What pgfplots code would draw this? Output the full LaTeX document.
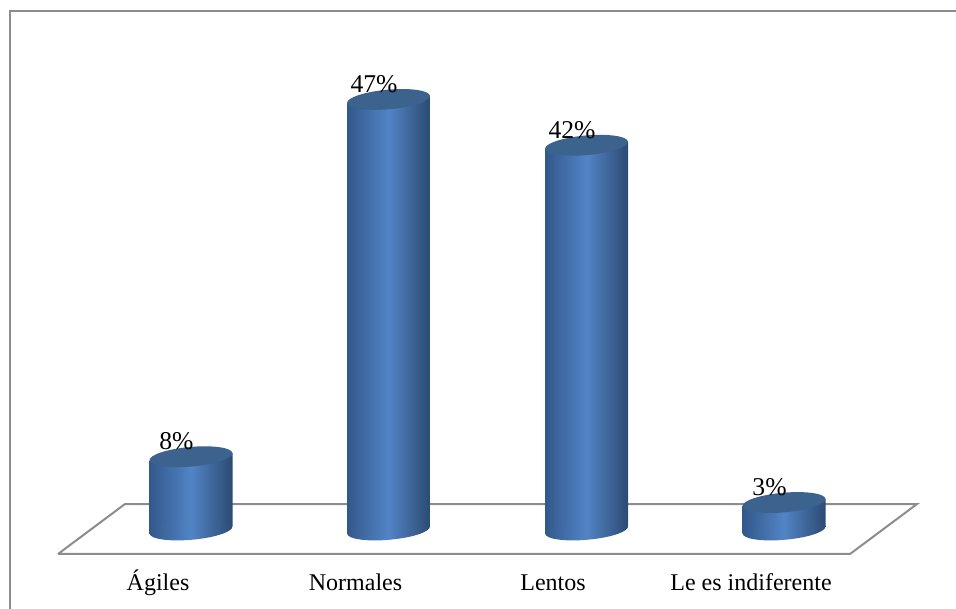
\documentclass[border=0pt]{standalone}
\usepackage{fontspec}
\setmainfont{Liberation Serif}
\usepackage{pgfplots}
\pgfplotsset{compat=1.18}
\definecolor{cylL}{RGB}{50,88,138}
\definecolor{cylM}{RGB}{82,132,198}
\definecolor{cylR}{RGB}{44,74,114}
\definecolor{cylT}{RGB}{60,98,142}
\definecolor{fl}{RGB}{140,140,140}
\pgfdeclareplotmark{cyltop}{%
  \pgftransformrotate{5}%
  \path[draw=none,fill=cylT] (canvas cs:x=0cm,y=0cm) ellipse [x radius=41.6bp,y radius=9.8bp];}
\pgfdeclareplotmark{cylbot}{%
  \pgftransformrotate{5}%
  \path[draw=none,left color=cylL,right color=cylR,middle color=cylM] (canvas cs:x=0cm,y=0cm) ellipse [x radius=41.6bp,y radius=9.8bp];}
\pgfplotsset{cylbody/.style={draw=none,left color=cylL,right color=cylR,middle color=cylM}}
\begin{document}
\begin{tikzpicture}[x=1bp,y=1bp]
\path[use as bounding box] (0,0) rectangle (956,609);
\begin{axis}[
  at={(0,0)},
  anchor=south west,
  scale only axis,width=956bp,height=609bp,
  xmin=0,xmax=956,ymin=-8.624,ymax=57.860,
  clip=false,
  axis line style={draw=none},
  major tick length=0pt,
  ytick=\empty,
  xtick={158,355.5,553,751},
  xticklabels={Ágiles,Normales,Lentos,Le es indiferente},
  xticklabel style={font=\fontsize{24bp}{28bp}\selectfont,anchor=base,yshift=18bp},
]
% frame
\addplot[draw=fl,line width=1.6bp] coordinates {(10,-8.624) (10,56.66) (956,56.66)};
% floor
\addplot[draw=fl,line width=2bp] coordinates {(58,-2.62) (850,-2.62) (917,2.838) (125,2.838) (58,-2.62)};
% bottom caps
\addplot[only marks,mark=cylbot] coordinates {(191,0) (388.5,0) (586.5,0) (784,0)};
% bodies: the sides of each cylinder, tilted to meet the caps
\addplot[cylbody] coordinates {(149.5,-0.396) (232.5,0.396) (232.5,8.396) (149.5,7.604)} -- cycle;
\addplot[cylbody] coordinates {(347,-0.396) (430,0.396) (430,47.396) (347,46.604)} -- cycle;
\addplot[cylbody] coordinates {(545,-0.396) (628,0.396) (628,42.396) (545,41.604)} -- cycle;
\addplot[cylbody] coordinates {(742.5,-0.396) (825.5,0.396) (825.5,3.396) (742.5,2.604)} -- cycle;
% top caps and labels
\addplot[only marks,mark=cyltop,
  point meta=y,
  nodes near coords={\pgfmathprintnumber[assume math mode=true]{\pgfplotspointmeta}\%},
  every node near coord/.style={anchor=base,xshift=-14.5bp,yshift=7bp,font=\fontsize{25.6bp}{30bp}\selectfont,text=black},
] coordinates {(191,8) (388.5,47) (586.5,42) (784,3)};
\end{axis}
\end{tikzpicture}
\end{document}
